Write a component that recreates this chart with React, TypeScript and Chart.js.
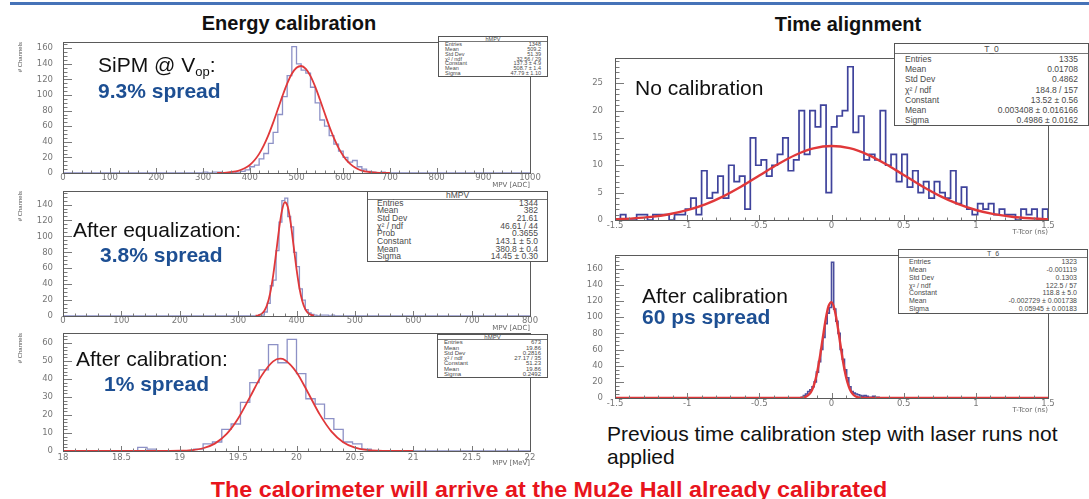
import React, { useEffect, useRef } from 'react';
import { Chart, registerables } from 'chart.js';

Chart.register(...registerables);

const FONT = '"Liberation Sans", Arial, Helvetica, sans-serif';
const TICK_FONT = '"DejaVu Sans", "Liberation Sans", Arial, sans-serif';

const p1XTicks = [0, 100, 200, 300, 400, 500, 600, 700, 800, 900, 1000];
const p1YTicks = [0, 20, 40, 60, 80, 100, 120, 140, 160];
const p1BinStart = 300;
const p1BinWidth = 10;
const p1Counts = [1, 0, 1, 1, 0, 0, 1, 0, 2, 4, 8, 10, 18, 25, 38, 52, 75, 98, 125, 162, 140, 132, 128, 110, 90, 68, 60, 48, 37, 28, 20, 14, 16, 8, 5, 2, 1, 0, 1, 0];
const p1FitX = [330, 350, 370, 380, 390, 400, 410, 420, 430, 440, 450, 460, 470, 480, 490, 500, 510, 520, 530, 540, 550, 560, 570, 580, 590, 600, 610, 620, 630, 640, 650, 670, 700];
const p1FitY = [0.05, 0.55, 2.03, 3.65, 6.3, 10.3, 16.3, 24.5, 35.4, 48.9, 64.6, 81.7, 98.9, 114.7, 127.2, 135.0, 137.2, 133.5, 124.3, 110.8, 94.5, 77.2, 60.3, 45.1, 32.3, 22.2, 14.5, 9.1, 5.5, 3.15, 1.73, 0.46, 0.05];
const p1StatLabels = ['Entries', 'Mean', 'Std Dev', 'χ² / ndf', 'Constant', 'Mean', 'Sigma'];
const p1StatValues = ['1348', '509.2', '51.39', '32.56 / 29', '137.3 ± 4.9', '508.7 ± 1.4', '47.79 ± 1.10'];

const p2XTicks = [0, 100, 200, 300, 400, 500, 600, 700, 800];
const p2YTicks = [0, 20, 40, 60, 80, 100, 120, 140];
const p2BinStart = 330;
const p2BinWidth = 5;
const p2Counts = [0, 1, 1, 5, 16, 38, 45, 82, 118, 145, 148, 125, 112, 80, 62, 34, 20, 8, 4, 2, 1, 0, 1, 1, 1, 0, 1];
const p2FitX = [330, 335, 340, 345, 350, 355, 360, 365, 370, 375, 380, 385, 390, 395, 400, 405, 410, 415, 420, 425, 430];
const p2FitY = [0.3, 0.94, 2.66, 6.65, 14.8, 29.1, 50.8, 78.7, 108.3, 132.0, 142.9, 137.2, 116.9, 88.3, 59.2, 35.2, 18.6, 8.69, 3.6, 1.33, 0.43];
const p2StatLabels = ['Entries', 'Mean', 'Std Dev', 'χ² / ndf', 'Prob', 'Constant', 'Mean', 'Sigma'];
const p2StatValues = ['1344', '382', '21.61', '46.61 / 44', '0.3655', '143.1 ± 5.0', '380.8 ± 0.4', '14.45 ± 0.30'];

const p3XTicks = [18, 18.5, 19, 19.5, 20, 20.5, 21, 21.5, 22];
const p3YTicks = [0, 10, 20, 30, 40, 50, 60];
const p3BinStart = 18.64;
const p3BinWidth = 0.08;
const p3Counts = [2, 1, 0, 0, 0, 0, 1, 4, 5, 12, 15, 27, 38, 45, 59, 49, 62, 43, 29, 26, 18, 12, 5, 4, 1];
const p3FitX = [18.0, 18.8, 19.0, 19.1, 19.2, 19.3, 19.4, 19.5, 19.6, 19.7, 19.8, 19.86, 19.9, 20.0, 20.1, 20.2, 20.3, 20.4, 20.5, 20.6, 20.7, 20.8, 21.0];
const p3FitY = [0, 0.01, 0.13, 0.49, 1.53, 4.1, 9.32, 18.04, 29.73, 41.7, 49.77, 51.23, 50.57, 43.75, 32.22, 20.19, 10.78, 4.9, 1.9, 0.62, 0.17, 0.04, 0];
const p3StatLabels = ['Entries', 'Mean', 'Std Dev', 'χ² / ndf', 'Constant', 'Mean', 'Sigma'];
const p3StatValues = ['673', '19.86', '0.2816', '27.17 / 35', '51.23', '19.86', '0.2492'];

const p4XTicks = [-1.5, -1, -0.5, 0, 0.5, 1, 1.5];
const p4YTicks = [0, 5, 10, 15, 20, 25];
const p4BinStart = -1.5;
const p4BinWidth = 0.0375;
const p4Counts = [
  0, 1, 0, 0, 1, 1, 0, 1, 1, 1,
  0, 1, 1, 2, 4, 1, 9, 4, 5, 8,
  4, 10, 7, 8, 2, 15, 10, 11, 8, 10,
  12, 15, 9, 11, 20, 12, 20, 17, 21, 5,
  17, 19, 20, 28, 16, 19, 11, 12, 11, 20,
  10, 12, 7, 12, 6, 9, 5, 7, 4, 7,
  5, 4, 9, 3, 6, 2, 1, 3, 2, 3,
  1, 2, 1, 1, 0, 2, 1, 2, 0, 2,
];
const p4FitX = [-1.5, -1.375, -1.25, -1.125, -1.0, -0.875, -0.75, -0.625, -0.5, -0.375, -0.25, -0.125, 0, 0.125, 0.25, 0.375, 0.5, 0.625, 0.75, 0.875, 1.0, 1.125, 1.25, 1.375, 1.5];
const p4FitY = [0.14, 0.3, 0.57, 1.05, 1.79, 2.86, 4.32, 6.11, 8.12, 10.14, 11.88, 13.08, 13.52, 13.12, 11.96, 10.24, 8.23, 6.21, 4.41, 2.93, 1.83, 1.07, 0.59, 0.31, 0.15];
const p4StatLabels = ['Entries', 'Mean', 'Std Dev', 'χ² / ndf', 'Constant', 'Mean', 'Sigma'];
const p4StatValues = ['1335', '0.01708', '0.4862', '184.8 / 157', '13.52 ± 0.56', '0.003408 ± 0.016166', '0.4986 ± 0.0162'];

const p5XTicks = [-1.5, -1, -0.5, 0, 0.5, 1, 1.5];
const p5YTicks = [0, 20, 40, 60, 80, 100, 120, 140, 160];
const p5BinStart = -0.21;
const p5BinWidth = 0.015;
const p5Counts = [1, 3, 5, 8, 10, 14, 20, 32, 45, 60, 75, 92, 105, 112, 168, 110, 95, 80, 60, 48, 35, 25, 14, 8, 6, 5, 4, 3, 2, 3, 2, 1, 1, 2, 1, 1];
const p5FitX = [-1.5, -0.3, -0.2, -0.175, -0.15, -0.135, -0.12, -0.1, -0.08, -0.06, -0.04, -0.02, 0, 0.02, 0.04, 0.06, 0.08, 0.1, 0.12, 0.135, 0.15, 0.175, 0.2, 0.3, 1.5];
const p5FitY = [0, 0, 0.48, 1.78, 5.5, 10.0, 16.9, 31.1, 51.0, 74.7, 97.6, 113.9, 118.7, 110.4, 91.8, 68.1, 45.1, 26.7, 14.1, 8.1, 4.38, 1.36, 0.36, 0, 0];
const p5StatLabels = ['Entries', 'Mean', 'Std Dev', 'χ² / ndf', 'Constant', 'Mean', 'Sigma'];
const p5StatValues = ['1323', '-0.001119', '0.1303', '122.5 / 57', '118.8 ± 5.0', '-0.002729 ± 0.001738', '0.05945 ± 0.00183'];

// ROOT-like frame with inward major/minor ticks
function drawAxisTicks(ctx: CanvasRenderingContext2D, a: any, scale: any, tickVals: number[], nMinor: number, majorLen: number, minorLen: number, horizontal: boolean) {
  if (tickVals.length < 2) return;
  const step = (tickVals[1] - tickVals[0]) / nMinor;
  const lo = scale.min;
  const hi = scale.max;
  const first = tickVals[0] - Math.floor((tickVals[0] - lo) / step + 1e-6) * step;
  const n = Math.floor((hi - first) / step + 1e-6);
  ctx.beginPath();
  for (let i = 0; i <= n; i++) {
    const v = first + i * step;
    const k = Math.round((v - tickVals[0]) / step);
    const len = ((k % nMinor) + nMinor) % nMinor === 0 ? majorLen : minorLen;
    const px = Math.round(scale.getPixelForValue(v)) + 0.5;
    if (horizontal) {
      ctx.moveTo(px, a.bottom);
      ctx.lineTo(px, a.bottom - len);
    } else {
      ctx.moveTo(a.left, px);
      ctx.lineTo(a.left + len, px);
    }
  }
  ctx.stroke();
}

function makeFramePlugin(xTicks: number[], yTicks: number[], xMinor: number, yMinor: number) {
  return {
    id: 'rootFrame',
    afterDraw(chart: any) {
      const ctx = chart.ctx as CanvasRenderingContext2D;
      const a = chart.chartArea;
      ctx.save();
      ctx.lineWidth = 1;
      ctx.strokeStyle = '#7a7a7a';
      drawAxisTicks(ctx, a, chart.scales.x, xTicks, xMinor, 5, 2.5, true);
      drawAxisTicks(ctx, a, chart.scales.y, yTicks, yMinor, 9, 4.5, false);
      ctx.strokeStyle = '#5a5a5a';
      ctx.strokeRect(Math.round(a.left) + 0.5, Math.round(a.top) + 0.5, Math.round(a.right - a.left), Math.round(a.bottom - a.top));
      ctx.restore();
    },
  };
}

type PanelProps = {
  l: number; t: number; r: number; b: number;
  xMin: number; xMax: number; yMax: number;
  xTicks: number[]; yTicks: number[];
  binStart: number; binWidth: number; counts: number[];
  fitX: number[]; fitY: number[];
  histColor: string; histWidth: number; fitWidth: number;
  xTitle: string; yTitle?: string; yPad: number; xPad: number;
  xMinor: number; yMinor: number;
};

function HistPanel(p: PanelProps) {
  const ref = useRef<HTMLCanvasElement | null>(null);
  const AX = 50, PT = 8, PR = 30, XH = 19;
  const w = p.r - p.l + AX + PR;
  const h = p.b - p.t + PT + XH;
  useEffect(() => {
    if (!ref.current) return;
    const hist: { x: number; y: number }[] = [{ x: p.xMin, y: 0 }];
    p.counts.forEach((c, i) => hist.push({ x: p.binStart + i * p.binWidth, y: c }));
    hist.push({ x: p.binStart + p.counts.length * p.binWidth, y: 0 });
    hist.push({ x: p.xMax, y: 0 });
    const fit = p.fitX.map((x, i) => ({ x, y: p.fitY[i] }));
    const tickFont = { family: TICK_FONT, size: 8.5 };
    const chart = new Chart(ref.current, {
      type: 'line',
      data: {
        datasets: [
          { data: fit, borderColor: '#e0383a', borderWidth: p.fitWidth, pointRadius: 0, cubicInterpolationMode: 'monotone', fill: false, order: 0 } as any,
          { data: hist, borderColor: p.histColor, borderWidth: p.histWidth, pointRadius: 0, stepped: 'before', fill: false, order: 1 } as any,
        ],
      },
      options: {
        animation: false,
        responsive: false,
        events: [],
        layout: { padding: { left: 0, top: PT, right: PR, bottom: 0 } },
        plugins: {
          legend: { display: false },
          tooltip: { enabled: false },
        },
        scales: {
          x: {
            type: 'linear', min: p.xMin, max: p.xMax,
            grid: { display: false, drawTicks: false },
            border: { display: false },
            ticks: { font: tickFont, color: '#777', padding: p.xPad, autoSkip: false, maxRotation: 0, minRotation: 0, callback: (v: any) => String(v) },
            title: { display: true, text: p.xTitle, align: 'end', font: { family: TICK_FONT, size: 7 }, color: '#666', padding: { top: 0, bottom: 3 } },
            afterBuildTicks: (s: any) => { s.ticks = p.xTicks.map((v) => ({ value: v })); },
            afterFit: (s: any) => { s.height = XH; s.paddingLeft = 0; s.paddingRight = 0; },
          },
          y: {
            type: 'linear', min: 0, max: p.yMax,
            grid: { display: false, drawTicks: false },
            border: { display: false },
            ticks: { font: tickFont, color: '#777', padding: p.yPad, autoSkip: false, callback: (v: any) => String(v) },
            title: { display: !!p.yTitle, text: p.yTitle || '', align: 'end', font: { family: FONT, size: 6 }, color: '#555' },
            afterBuildTicks: (s: any) => { s.ticks = p.yTicks.map((v) => ({ value: v })); },
            afterFit: (s: any) => { s.width = AX; s.paddingTop = 0; s.paddingBottom = 0; },
          },
        } as any,
      },
      plugins: [makeFramePlugin(p.xTicks, p.yTicks, p.xMinor, p.yMinor) as any],
    });
    return () => chart.destroy();
  }, []);
  return (
    <canvas
      ref={ref}
      width={w}
      height={h}
      style={{ position: 'absolute', left: p.l - AX, top: p.t - PT, width: w, height: h }}
    />
  );
}

type StatsProps = {
  left: number; top: number; width: number; height: number; fontSize: number; pad: number;
  title: string; labels: string[]; values: string[];
};

function StatsBox(s: StatsProps) {
  const rowH = (s.height - 2) / (s.labels.length + 1);
  return (
    <div
      style={{
        position: 'absolute', left: s.left, top: s.top, width: s.width, height: s.height,
        boxSizing: 'border-box', border: '1px solid #555', background: '#fff',
        fontFamily: FONT, fontSize: s.fontSize, color: '#4a4a4a', overflow: 'hidden',
      }}
    >
      <div style={{ height: rowH, lineHeight: `${rowH}px`, textAlign: 'center', boxSizing: 'border-box', borderBottom: '1px solid #777' }}>
        {s.title}
      </div>
      {s.labels.map((lab, i) => (
        <div
          key={i}
          style={{ display: 'flex', justifyContent: 'space-between', height: rowH, lineHeight: `${rowH}px`, padding: `0 ${s.pad}px`, whiteSpace: 'nowrap' }}
        >
          <span>{lab}</span>
          <span>{s.values[i]}</span>
        </div>
      ))}
    </div>
  );
}

type TxtProps = {
  x: number; y: number; size: number; bold?: boolean; color?: string;
  center?: boolean; scaleX?: number; children: React.ReactNode;
};

function Txt({ x, y, size, bold, color = '#111', center, scaleX, children }: TxtProps) {
  const tr: string[] = [];
  if (center) tr.push('translateX(-50%)');
  if (scaleX) tr.push(`scaleX(${scaleX})`);
  return (
    <div
      style={{
        position: 'absolute', left: x, top: y, fontSize: size, fontWeight: bold ? 'bold' : 'normal',
        color, lineHeight: 1, whiteSpace: 'nowrap', fontFamily: FONT,
        transform: tr.length ? tr.join(' ') : undefined,
      }}
    >
      {children}
    </div>
  );
}

const BLUE = '#1d4f93';

export default function App() {
  return (
    <div style={{ position: 'absolute', left: 0, top: 0, width: 1089, height: 499, background: '#fff', overflow: 'hidden', fontFamily: FONT }}>
      <div style={{ position: 'absolute', left: 10, top: 2, width: 1079, height: 3, background: '#4673b8' }} />

      <HistPanel l={63} t={42} r={530} b={173} xMin={0} xMax={1000} yMax={168}
        xTicks={p1XTicks} yTicks={p1YTicks} binStart={p1BinStart} binWidth={p1BinWidth} counts={p1Counts}
        fitX={p1FitX} fitY={p1FitY} histColor="#8d91c6" histWidth={1.3} fitWidth={1.8}
        xTitle="MPV [ADC]" yTitle="# Channels" yPad={10} xPad={0} xMinor={5} yMinor={4} />
      <HistPanel l={63} t={191} r={530} b={316} xMin={0} xMax={800} yMax={157}
        xTicks={p2XTicks} yTicks={p2YTicks} binStart={p2BinStart} binWidth={p2BinWidth} counts={p2Counts}
        fitX={p2FitX} fitY={p2FitY} histColor="#8d91c6" histWidth={1.3} fitWidth={1.8}
        xTitle="MPV [ADC]" yTitle="# Channels" yPad={10} xPad={0} xMinor={5} yMinor={4} />
      <HistPanel l={63} t={333} r={530} b={451} xMin={18} xMax={22} yMax={65.5}
        xTicks={p3XTicks} yTicks={p3YTicks} binStart={p3BinStart} binWidth={p3BinWidth} counts={p3Counts}
        fitX={p3FitX} fitY={p3FitY} histColor="#8d91c6" histWidth={1.3} fitWidth={1.8}
        xTitle="MPV [MeV]" yTitle="# Channels" yPad={10} xPad={2} xMinor={5} yMinor={5} />
      <HistPanel l={615} t={58} r={1048} b={220} xMin={-1.5} xMax={1.5} yMax={29.6}
        xTicks={p4XTicks} yTicks={p4YTicks} binStart={p4BinStart} binWidth={p4BinWidth} counts={p4Counts}
        fitX={p4FitX} fitY={p4FitY} histColor="#3f439c" histWidth={1.7} fitWidth={2.4}
        xTitle="T-Tcor (ns)" yPad={12} xPad={1} xMinor={5} yMinor={5} />
      <HistPanel l={615} t={255} r={1048} b={398} xMin={-1.5} xMax={1.5} yMax={177}
        xTicks={p5XTicks} yTicks={p5YTicks} binStart={p5BinStart} binWidth={p5BinWidth} counts={p5Counts}
        fitX={p5FitX} fitY={p5FitY} histColor="#4a4e9e" histWidth={1.6} fitWidth={2.4}
        xTitle="T-Tcor (ns)" yPad={12} xPad={1} xMinor={5} yMinor={4} />

      <StatsBox left={438} top={36} width={110} height={41} fontSize={5.5} pad={6} title="hMPV" labels={p1StatLabels} values={p1StatValues} />
      <StatsBox left={367} top={191} width={181} height={71} fontSize={8.5} pad={9} title="hMPV" labels={p2StatLabels} values={p2StatValues} />
      <StatsBox left={437} top={334} width={111} height={44} fontSize={6} pad={6} title="hMPV" labels={p3StatLabels} values={p3StatValues} />
      <StatsBox left={894} top={43} width={195} height={83} fontSize={8.5} pad={10} title="T_0" labels={p4StatLabels} values={p4StatValues} />
      <StatsBox left={898} top={249} width={190} height={65} fontSize={7} pad={10} title="T_6" labels={p5StatLabels} values={p5StatValues} />

      <Txt x={289} y={13} size={20} bold center>Energy calibration</Txt>
      <Txt x={848} y={14} size={20} bold center>Time alignment</Txt>

      <Txt x={98} y={54} size={21}>
        SiPM @ V<span style={{ fontSize: 13, position: 'relative', top: 4 }}>op</span>:
      </Txt>
      <Txt x={98} y={80} size={21} bold color={BLUE}>9.3% spread</Txt>

      <Txt x={73} y={219} size={21}>After equalization:</Txt>
      <Txt x={100} y={244} size={21} bold color={BLUE}>3.8% spread</Txt>

      <Txt x={76} y={348} size={21}>After calibration:</Txt>
      <Txt x={104} y={373} size={21} bold color={BLUE}>1% spread</Txt>

      <Txt x={635} y={77} size={21}>No calibration</Txt>

      <Txt x={642} y={285} size={21}>After calibration</Txt>
      <Txt x={642} y={306} size={21} bold color={BLUE}>60 ps spread</Txt>

      <Txt x={607} y={423} size={21}>Previous time calibration step with laser runs not</Txt>
      <Txt x={607} y={446} size={21}>applied</Txt>

      <Txt x={549} y={479} size={22} bold color="#e8141c" center scaleX={1.06}>
        The calorimeter will arrive at the Mu2e Hall already calibrated
      </Txt>
    </div>
  );
}
